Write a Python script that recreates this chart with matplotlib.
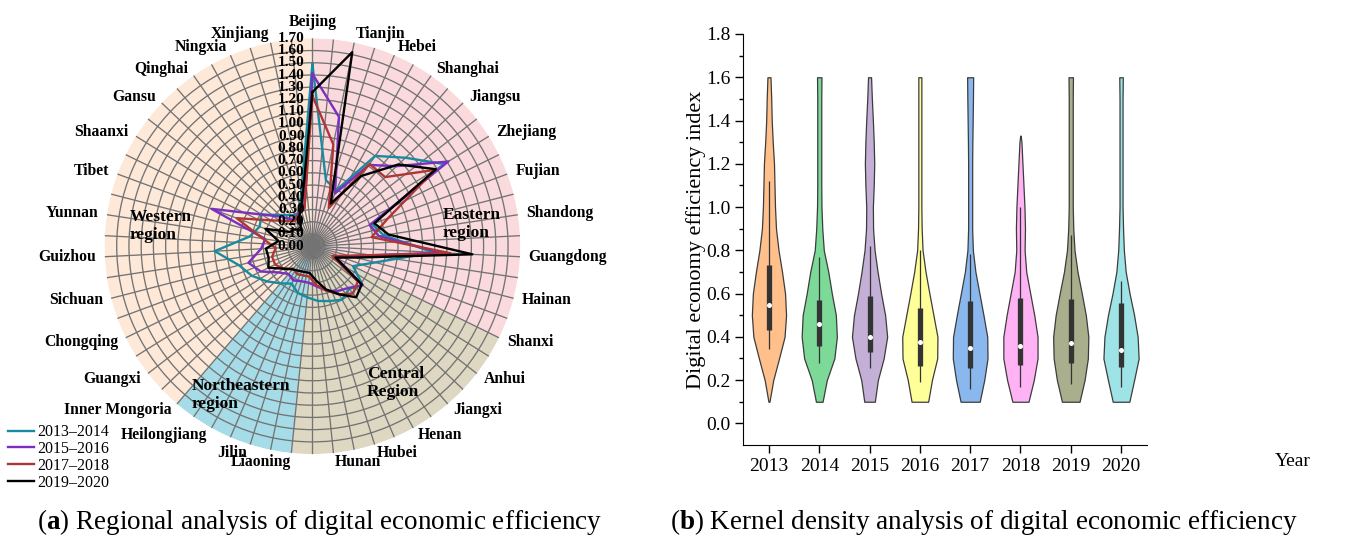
import numpy as np
import matplotlib
matplotlib.use('Agg')
import matplotlib.pyplot as plt
from matplotlib import transforms

plt.rcParams['font.family'] = 'serif'
plt.rcParams['font.serif'] = ['Liberation Serif', 'DejaVu Serif']
plt.rcParams['mathtext.fontset'] = 'custom'
plt.rcParams['mathtext.rm'] = 'Liberation Serif'
plt.rcParams['mathtext.bf'] = 'Liberation Serif:bold'

# ---- radar data (clockwise from the top) ----
provinces = ['Beijing', 'Tianjin', 'Hebei', 'Shanghai', 'Jiangsu', 'Zhejiang',
             'Fujian', 'Shandong', 'Guangdong', 'Hainan', 'Shanxi', 'Anhui',
             'Jiangxi', 'Henan', 'Hubei', 'Hunan', 'Liaoning', 'Jilin',
             'Heilongjiang', 'Inner Mongoria', 'Guangxi', 'Chongqing',
             'Sichuan', 'Guizhou', 'Yunnan', 'Tibet', 'Shaanxi', 'Gansu',
             'Qinghai', 'Ningxia', 'Xinjiang']
region_names = ['Eastern\nregion', 'Central\nRegion', 'Northeastern\nregion', 'Western\nregion']
region_sizes = [10, 6, 3, 12]

periods = ['2013–2014', '2015–2016', '2017–2018', '2019–2020']
eff_1314 = [1.49, 0.55, 0.50, 0.90, 1.05, 1.27, 0.52, 0.59, 0.99, 0.53, 0.37,
            0.52, 0.46, 0.50, 0.47, 0.45, 0.42, 0.40, 0.35, 0.40, 0.47, 0.55,
            0.62, 0.80, 0.52, 0.46, 0.49, 0.37, 0.31, 0.28, 0.45]
eff_1516 = [1.41, 1.08, 0.47, 0.81, 0.95, 1.31, 0.50, 0.55, 1.05, 0.32, 0.22,
            0.52, 0.45, 0.42, 0.38, 0.33, 0.30, 0.30, 0.32, 0.30, 0.35, 0.47,
            0.54, 0.42, 0.39, 0.88, 0.49, 0.35, 0.26, 0.29, 0.32]
eff_1718 = [1.23, 0.85, 0.34, 0.82, 0.82, 1.18, 0.66, 0.49, 1.13, 0.31, 0.18,
            0.47, 0.51, 0.45, 0.38, 0.32, 0.25, 0.25, 0.26, 0.24, 0.30, 0.34,
            0.34, 0.30, 0.41, 0.66, 0.40, 0.30, 0.25, 0.28, 0.32]
eff_1920 = [1.26, 1.62, 0.38, 0.70, 0.97, 1.19, 0.54, 0.63, 1.31, 0.37, 0.21,
            0.51, 0.55, 0.45, 0.37, 0.28, 0.22, 0.22, 0.23, 0.25, 0.30, 0.40,
            0.37, 0.38, 0.28, 0.41, 0.22, 0.20, 0.16, 0.27, 0.40]

# ---- violin data ----
years = ['2013', '2014', '2015', '2016', '2017', '2018', '2019', '2020']
levels = [0.1, 0.2, 0.3, 0.4, 0.5, 0.6, 0.7, 0.8, 0.9, 1.0, 1.1, 1.2, 1.3, 1.4, 1.5, 1.6]
levels_2018 = [0.1, 0.2, 0.3, 0.4, 0.5, 0.6, 0.7, 0.8, 0.9, 1.0, 1.1, 1.2, 1.3, 1.33]
density = [
    [0.01, 0.085, 0.20, 0.31, 0.34, 0.32, 0.26, 0.19, 0.14, 0.12, 0.11, 0.10, 0.075, 0.055, 0.045, 0.03],
    [0.066, 0.15, 0.30, 0.35, 0.33, 0.25, 0.18, 0.09, 0.06, 0.044, 0.04, 0.04, 0.04, 0.04, 0.04, 0.044],
    [0.105, 0.165, 0.28, 0.35, 0.31, 0.23, 0.16, 0.10, 0.07, 0.066, 0.083, 0.093, 0.083, 0.066, 0.046, 0.03],
    [0.165, 0.24, 0.345, 0.35, 0.27, 0.19, 0.113, 0.054, 0.036, 0.03, 0.03, 0.03, 0.03, 0.03, 0.03, 0.03],
    [0.19, 0.28, 0.345, 0.34, 0.265, 0.185, 0.105, 0.054, 0.04, 0.04, 0.04, 0.04, 0.044, 0.05, 0.056, 0.06],
    [0.16, 0.265, 0.34, 0.34, 0.275, 0.195, 0.115, 0.083, 0.09, 0.08, 0.06, 0.04, 0.02, 0.005],
    [0.175, 0.275, 0.34, 0.35, 0.30, 0.22, 0.135, 0.075, 0.05, 0.04, 0.04, 0.04, 0.04, 0.04, 0.04, 0.044],
    [0.165, 0.26, 0.35, 0.33, 0.26, 0.17, 0.093, 0.056, 0.04, 0.03, 0.03, 0.03, 0.03, 0.03, 0.03, 0.035],
]
q1 = [0.43, 0.36, 0.33, 0.265, 0.255, 0.27, 0.28, 0.26]
q3 = [0.73, 0.57, 0.59, 0.535, 0.565, 0.58, 0.575, 0.555]
medians = [0.545, 0.46, 0.40, 0.375, 0.35, 0.36, 0.37, 0.34]
whisk_lo = [0.345, 0.28, 0.255, 0.19, 0.16, 0.17, 0.18, 0.17]
whisk_hi = [1.12, 0.77, 0.82, 0.80, 0.785, 1.0, 0.87, 0.66]

# colours
region_colours = ['#FADADD', '#DED8C3', '#A6DCE8', '#FEE8D8']
line_colours = ['#168C9E', '#7A2FC0', '#B03636', '#000000']
violin_colours = ['#FFC08C', '#7DD998', '#C4AFD6', '#FFFF99',
                  '#8AB8EE', '#FFB3F5', '#A9AE8C', '#9EE3E6']

fig = plt.figure(figsize=(13.5, 5.37), dpi=100)

# ================= (a) radar =================
ax = fig.add_axes([0.0774, 0.154, 0.308, 0.775], projection='polar')
ax.set_theta_zero_location('N')
ax.set_theta_direction(-1)
rmax = 1.7
ax.set_ylim(0, rmax)

n = len(provinces)
step = 2 * np.pi / n
theta = np.arange(n) * step

# region sectors
start = 0
for size, col in zip(region_sizes, region_colours):
    ax.bar(start * step, rmax, width=size * step, bottom=0, align='edge',
           color=col, edgecolor='none', zorder=0.8)
    start += size

ax.set_xticks(np.arange(2 * n) * step / 2)
ax.set_xticklabels([])
ax.set_yticks(np.arange(0.1, 1.65, 0.1))
ax.set_yticklabels([])
ax.grid(True, color='#737373', linewidth=0.95)
ax.set_axisbelow('line')
ax.spines['polar'].set_visible(False)
ax.patch.set_alpha(0)

series = [eff_1314, eff_1516, eff_1718, eff_1920]
handles = []
for vals, col, lab in zip(series, line_colours, periods):
    t = np.append(theta, theta[0] + 2 * np.pi)
    v = np.append(vals, vals[0])
    h, = ax.plot(t, v, color=col, linewidth=1.7, label=lab, zorder=3)
    handles.append(h)

# province labels
for t, name in zip(theta, provinces):
    s = np.sin(t)
    if abs(s) < 0.01:
        ha = 'center'
    elif s > 0:
        ha = 'left'
    else:
        ha = 'right'
    va = 'bottom' if t == 0 else 'center'
    ax.text(t, 1.77, name, ha=ha, va=va, fontsize=11.3, fontweight='bold')

# radial value labels
off = transforms.offset_copy(ax.transData, fig=fig, x=-8, y=0, units='dots')
for r in np.arange(0, 1.701, 0.1):
    ax.text(0, r, '%.2f' % r, transform=off, ha='right', va='center',
            fontsize=11, fontweight='bold', zorder=4)

# region names
region_pos = [(443, 224), (367, 383), (192, 395), (130, 226)]
for name, (px, py) in zip(region_names, region_pos):
    fig.text(px / 1350, 1 - py / 537, name, ha='left', va='center',
             fontsize=12.5, fontweight='bold', linespacing=1.15)

fig.legend(handles, periods, loc='upper left', bbox_to_anchor=(0.006, 0.21),
           frameon=False, fontsize=11.5, handlelength=1.6, handletextpad=0.25,
           labelspacing=0.05, borderpad=0, borderaxespad=0)

# ================= (b) violins =================
ax2 = fig.add_axes([0.5506, 0.1713, 0.2988, 0.7654])
for i in range(len(years)):
    lv = levels_2018 if years[i] == '2018' else levels
    w = np.array(density[i])
    ax2.fill_betweenx(lv, i - w, i + w, facecolor=violin_colours[i],
                      edgecolor='#3c3c3c', linewidth=0.9, zorder=2)
    ax2.vlines(i, whisk_lo[i], whisk_hi[i], color='#333333', linewidth=0.9, zorder=3)
    ax2.vlines(i, q1[i], q3[i], color='#333333', linewidth=3.8, zorder=3)
    ax2.scatter([i], [medians[i]], s=13, color='white', zorder=4, linewidths=0)

ax2.set_xlim(-0.51, len(years) - 1 + 0.51)
ax2.set_ylim(-0.1, 1.8)
ax2.set_xticks(range(len(years)))
ax2.set_xticklabels(years)
ax2.set_yticks(np.arange(0, 1.81, 0.2))
ax2.set_yticklabels(['%.1f' % v for v in np.arange(0, 1.81, 0.2)])
ax2.set_yticks(np.arange(0.1, 1.8, 0.2), minor=True)
ax2.tick_params(axis='both', which='major', direction='out', length=6, width=1,
                labelsize=14, pad=3)
ax2.tick_params(axis='y', which='minor', direction='out', length=3, width=1)
ax2.spines['top'].set_visible(False)
ax2.spines['right'].set_visible(False)
ax2.set_ylabel('Digital economy efficiency index', fontsize=16)
ax2.yaxis.set_label_coords(-0.093, 0.5)
fig.text(1275 / 1350, 1 - 462 / 537, 'Year', fontsize=14, va='center')

# captions
fig.text(37 / 1350, 1 - 522 / 537,
         r'($\mathbf{a}$) Regional analysis of digital economic efficiency',
         fontsize=19.5, va='center')
fig.text(670 / 1350, 1 - 522 / 537,
         r'($\mathbf{b}$) Kernel density analysis of digital economic efficiency',
         fontsize=19.5, va='center')

fig.savefig('out.png', dpi=100)
